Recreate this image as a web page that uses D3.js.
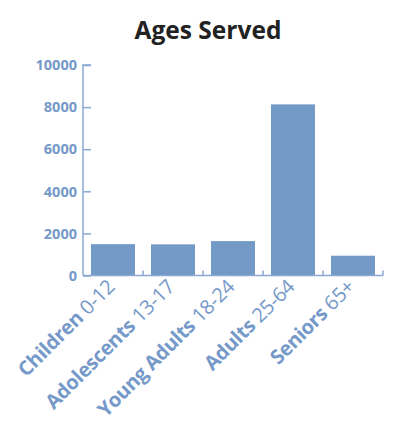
<!DOCTYPE html>
<html><head><meta charset="utf-8">
<script src="https://cdn.jsdelivr.net/npm/d3@7"></script>
<style>
html,body{margin:0;padding:0;background:#fff;}
svg{display:block;font-family:"Open Sans",sans-serif;}
</style></head>
<body><svg id="c" width="393" height="424"></svg>
<script>
const categories = ["Children", "Adolescents", "Young Adults", "Adults", "Seniors"];
const ageRanges = ["0-12", "13-17", "18-24", "25-64", "65+"];
const values = [1490, 1480, 1635, 8130, 940];
const yTicks = [0, 2000, 4000, 6000, 8000, 10000];
const title = "Ages Served";

const barColor = "#7399c6", textColor = "#7599c9", axisColor = "#8aa9d2";
const svg = d3.select("#c");
const x = d3.scaleBand().domain(categories).range([83, 383]).paddingInner(16/60).paddingOuter(8/60);
const y = d3.scaleLinear().domain([0, 10000]).range([275.5, 65]);

svg.append("text").attr("x", 208).attr("y", 39).attr("text-anchor", "middle")
  .attr("font-size", 24.5).attr("font-weight", 700).attr("fill", "#222").text(title);

svg.selectAll("rect.bar").data(values).join("rect").attr("class", "bar")
  .attr("x", (d, i) => x(categories[i])).attr("width", x.bandwidth())
  .attr("y", d => y(d)).attr("height", d => y(0) - y(d)).attr("fill", barColor);

// y axis
const ya = svg.append("g").attr("transform", "translate(83,0)")
  .call(d3.axisRight(y).tickValues(yTicks).tickSize(8).tickFormat(""));
ya.select(".domain").attr("stroke", axisColor).attr("stroke-width", 1.5).attr("d", `M8,${y(10000)}H0V${y(0)}`);
ya.selectAll(".tick line").attr("stroke", axisColor).attr("stroke-width", 1.5);
svg.selectAll("text.ytl").data(yTicks).join("text").attr("class", "ytl")
  .attr("x", 77).attr("y", d => y(d)).attr("dy", "0.36em").attr("text-anchor", "end")
  .attr("font-size", 14.5).attr("font-weight", 700).attr("fill", textColor).text(d => d);

// x axis
const boundaries = categories.map(c => x(c) + x.bandwidth() + 8);
const xa = svg.append("g");
xa.append("line").attr("x1", 83).attr("x2", 383).attr("y1", y(0)).attr("y2", y(0))
  .attr("stroke", axisColor).attr("stroke-width", 1.5);
xa.selectAll("line.xt").data(boundaries).join("line").attr("class", "xt")
  .attr("x1", d => d).attr("x2", d => d).attr("y1", y(0)).attr("y2", y(0) - 5)
  .attr("stroke", axisColor).attr("stroke-width", 1.5);

const lbl = svg.selectAll("text.xl").data(categories).join("text").attr("class", "xl")
  .attr("transform", c => `translate(${x(c) + x.bandwidth() / 2 + 3},288) rotate(-45)`)
  .attr("text-anchor", "end").attr("font-size", 20).attr("fill", textColor);
lbl.append("tspan").attr("font-weight", 700).attr("letter-spacing", "-0.3").text(c => c + " ");
lbl.append("tspan").attr("font-weight", 400).attr("letter-spacing", "-0.3").text((c, i) => ageRanges[i]);
</script></body></html>
